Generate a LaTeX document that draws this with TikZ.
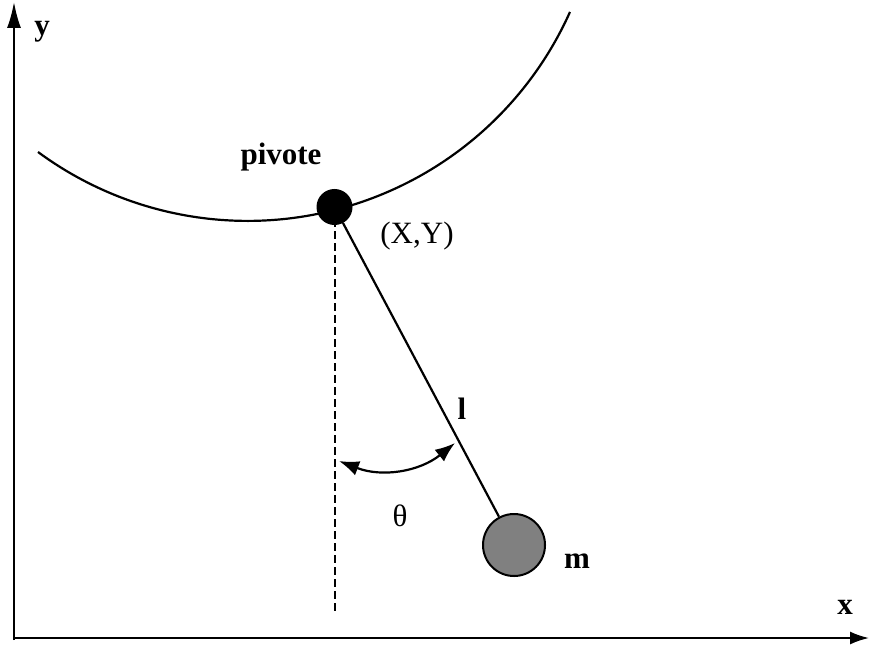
\documentclass[tikz,border=0pt]{standalone}
\usepackage{fontspec}
\setmainfont{Liberation Serif}
\usetikzlibrary{arrows.meta}

\tikzset{
 lbl/.style={font=\fontsize{15.5}{18}\selectfont\bfseries},
 txt/.style={font=\fontsize{15.5}{18}\selectfont},
 axis/.style={line width=1pt},
 bob/.style={circle,draw,line width=1pt,inner sep=0pt}
}

\begin{document}
\begin{tikzpicture}[x=0.5pt,y=0.5pt]
 \useasboundingbox (0,0) rectangle (870,644);
 % axes
 \coordinate (o) at (14,6);
 \coordinate (ytip) at (14,642);
 \coordinate (xtip) at (869,6);
 \draw[axis,-{Latex[length=13pt,width=7pt]}] (14,4)--(ytip);
 \draw[axis,-{Latex[length=9.5pt,width=6.5pt]}] (o)--(xtip);
 \node[lbl] (ylbl) at (42,612) {y};
 \node[lbl] (xlbl) at (845,37) {x};
 % support curve
 \draw[line width=1.1pt] (38,492) arc[start angle=233.6,end angle=335.9,radius=353.2];
 % pendulum
 \node[bob,fill=black,minimum size=17pt] (piv) at (334.5,437) {};
 \node[bob,fill=gray,minimum size=31pt] (mass) at (514,99) {};
 \coordinate (vbot) at (334.5,32);
 \draw[line width=1pt,dash pattern=on 4pt off 2pt] (piv.center)--(vbot);
 \draw[line width=1.1pt] (piv)--(mass);
 \fill (piv) circle (8.5pt);
 % angle
 \coordinate (th1) at (339,183);
 \coordinate (th2) at (455,201);
 \draw[line width=1.1pt,{Latex[length=10pt,width=7.5pt]}-{Latex[length=10pt,width=7.5pt]}]
  (th1) to[bend right=30] (th2);
 \node[lbl] (pivlbl) at (281,487) {pivote};
 \node[txt] (xy) at (417,408) {(X,Y)};
 \node[lbl] (llbl) at (462,235) {l};
 \node[txt] (thlbl) at (400,128) {θ};
 \node[lbl] (mlbl) at (577,83) {m};
\end{tikzpicture}
\end{document}
